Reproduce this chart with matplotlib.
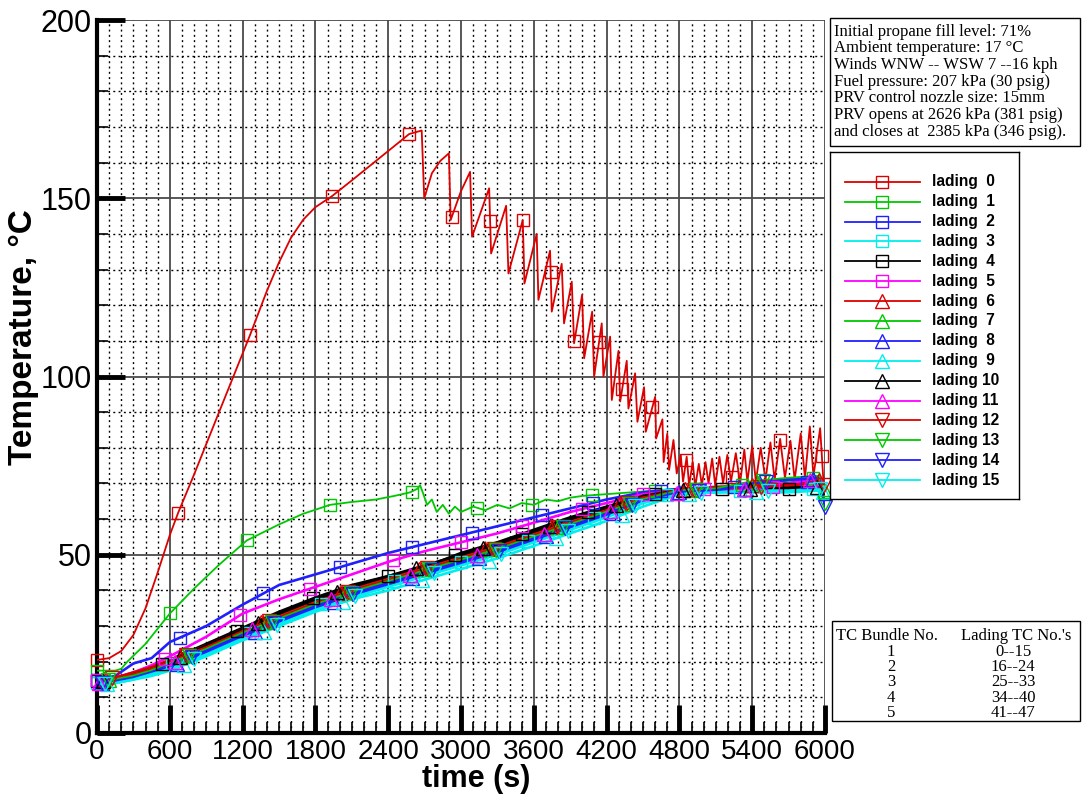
import matplotlib
matplotlib.use("Agg")
import matplotlib.pyplot as plt
import numpy as np
from matplotlib.patches import Rectangle

plt.rcParams["font.family"] = ["Liberation Sans", "DejaVu Sans"]

W, H = 1083, 796

# lading 0: the hot vapour-space thermocouple with the PRV sawtooth
lading0_t = [0, 100, 200, 300, 400, 500, 600, 668, 800, 1000, 1261, 1400, 1500, 1600, 1700,
             1800, 1937, 2100, 2300, 2500, 2572, 2676, 2697, 2760, 2830, 2900, 2915, 3000,
             3075, 3091, 3232, 3248, 3372, 3391, 3509, 3523, 3624, 3638, 3734, 3748, 3830,
             3849, 3913, 3932, 3998, 4015, 4081, 4097, 4160, 4174, 4229, 4243, 4298, 4312,
             4366, 4380, 4435, 4454, 4509, 4523, 4600, 4608, 4660, 4670, 4700, 4715, 4751,
             4778, 4811, 4830, 4860, 4880, 4910, 4930, 4960, 4985, 5015, 5040, 5070, 5095,
             5130, 5160, 5195, 5225, 5265, 5300, 5335, 5360, 5400, 5430, 5470, 5510, 5550,
             5585, 5630, 5670, 5715, 5750, 5800, 5835, 5875, 5905, 5960, 5990, 6000]
lading0_T = [20.5, 21, 23, 27.5, 35, 45, 55.5, 61.7, 72.5, 89.5, 111.6, 124, 132, 139, 144,
             147.5, 150.6, 155, 160.5, 166, 168, 169, 150, 157, 160.5, 162.6, 143.9, 152,
             157.4, 139.2, 152.8, 134.5, 147.9, 128.9, 143.9, 126.1, 140, 121.5, 135.3, 118.2, 131.6,
             114.9, 126.6, 109.3, 122.9, 105.1, 118.2, 100, 114.9, 100, 111.2, 93.4, 107.2, 93,
             104.4, 91, 100.9, 87.3, 97, 84.5, 94.3, 82.6, 88, 76, 84, 73.8, 82.2,
             72.8, 78, 70.5, 77.5, 69.5, 76, 69, 75.5, 69.5, 76, 70, 77, 69.5,
             77.5, 70, 78, 70.5, 78.5, 70, 79.5, 70.5, 80.5, 70.5, 80, 71, 81.5,
             71, 82.5, 71.5, 82, 71, 84, 71.5, 86, 72, 85.5, 69, 68]
lading0_marks = [0, 668, 1261, 1937, 2572, 2924, 3240, 3509, 3739, 3935, 4138, 4328, 4578,
                 4856, 5232, 5631, 5974]

# lading 1: liquid-vapour interface, noisy after the first PRV opening
lading1_t = [0, 150, 200, 250, 400, 600, 800, 1000, 1234, 1500, 1700, 1921, 2100, 2300, 2450,
             2580, 2640, 2663, 2690, 2720, 2760, 2800, 2850, 2900, 2950, 3000, 3100, 3200,
             3300, 3400, 3500, 3600, 3700, 3800, 3900, 4000, 4200, 4400, 4600, 4800, 5000,
             5200, 5400, 5600, 5800, 5950, 6000]
lading1_T = [17.5, 17.5, 18, 20, 25, 33.5, 40.5, 47, 54, 58.5, 61.5, 64, 64.8, 65.5, 66.5,
             67.5, 68.5, 69.5, 67, 64, 65.5, 62, 64, 61.5, 63.5, 62, 63.5, 62.5,
             64, 63, 64.5, 64, 65.5, 65, 66, 66.5, 67, 67.5, 68, 68.5, 68.5,
             69, 70, 70.5, 71, 72, 68]
lading1_marks = [0, 602, 1234, 1921, 2593, 3129, 3582, 4077, 4600, 5313, 5900]

# ladings 2 - 15 share one time base
band_t = [0, 150, 300, 450, 600, 900, 1200, 1500, 1800, 2100, 2400, 2700, 3000, 3300,
          3600, 3900, 4200, 4500, 4800, 5100, 5400, 5700, 5950, 6000]
lading2_T = [15, 16, 19.5, 21, 25.5, 30, 36, 41.5, 44.5, 47.5, 50.5, 53, 55.5, 58,
             60.5, 63, 65.5, 67.5, 68.5, 69, 69, 70, 70.5, 68.5]
lading3_T = [14, 14.5, 15.5, 17, 19, 23, 27.5, 31.5, 35.5, 39, 42, 45, 48, 51,
             54.5, 58, 61.5, 65, 67.5, 68, 68, 68, 68.5, 68]
lading4_T = [14.5, 15, 16, 18, 20.5, 25, 29.5, 34, 38, 41.5, 44, 46.5, 50.5, 53.5,
             57, 60.5, 63.5, 66.5, 68, 68.5, 68, 68.5, 69, 68.5]
lading5_T = [15, 15.5, 17, 19, 21.5, 27, 33.5, 37.5, 41, 44.5, 48, 51, 53.5, 56,
             59, 62, 64.5, 67, 68, 68.5, 68.5, 69.5, 70.5, 69]
lading6_T = [15, 15.5, 17, 18.5, 20.5, 24.5, 29, 33, 37, 40.5, 43.5, 46.5, 49.5, 52.5,
             56, 59.5, 63, 66.5, 68.5, 69, 69.5, 70, 71, 70]
lading7_T = [14.5, 15, 16.5, 18, 20, 24, 28.5, 32.5, 36.5, 40, 43, 46, 49, 52,
             55.5, 59, 62.5, 66, 68, 68.5, 70, 71, 72, 68]
lading8_T = [14, 14.5, 15.5, 17, 18.5, 22.5, 27, 31, 35, 38.5, 41.5, 44.5, 47.5, 50.5,
             54, 57.5, 61, 65, 67.5, 68, 68.5, 70, 71.5, 68]
lading9_T = [13.5, 14, 15, 16, 17.5, 21.5, 26, 30, 34, 37.5, 40, 43, 46, 49,
             52.5, 56, 59.5, 63.5, 67, 67.5, 67.5, 67.5, 68, 67.5]
lading10_T = [14.5, 15, 16.5, 18, 20, 24.5, 29, 33.5, 37.5, 41, 44, 47, 50, 53,
              56.5, 60, 63, 66.5, 68, 68.5, 68.5, 69, 69, 68.5]
lading11_T = [14, 14.5, 16, 17.5, 19.5, 23.5, 28, 32, 36, 39.5, 42.5, 45.5, 48.5, 51.5,
              55, 58.5, 62, 65.5, 67.5, 68, 68.5, 70, 71.5, 69]
lading12_T = [15, 15.5, 16.5, 18, 20, 24, 28.5, 32.5, 36.5, 40, 43, 46, 49, 52,
              55.5, 59, 62.5, 66, 68, 68.5, 69, 69.5, 70, 69.5]
lading13_T = [14.5, 15, 16, 17.5, 19.5, 23.5, 28, 32, 36, 39.5, 42.5, 45.5, 48.5, 51.5,
              55, 58.5, 62, 65.5, 68, 68.5, 70.5, 71.5, 72, 64.5]
lading14_T = [14, 14.5, 15.5, 17, 19, 23, 27.5, 31.5, 35.5, 39, 42, 45, 48, 51,
              54.5, 58, 61.5, 65, 67.5, 68, 70, 71, 71.5, 63.5]
lading15_T = [13.5, 14, 15, 16.5, 18, 22, 26.5, 30.5, 34.5, 38, 41, 44, 47, 50,
              53.5, 57, 60.5, 64.5, 67, 67.5, 68, 68, 68.5, 68]

lading2_marks = [0, 684, 1371, 2003, 2593, 3088, 3665, 4088, 4650, 5250, 5850]
lading3_marks = [0, 620, 1250, 1850, 2450, 3000, 3550, 4100, 4700, 5300, 5900]
lading4_marks = [0, 533, 1150, 1780, 2400, 2950, 3500, 4050, 4600, 5150, 5700]
lading5_marks = [0, 560, 1179, 1756, 2443, 3000, 3500, 4000, 4500, 5000, 5575]
lading6_marks = [60, 700, 1350, 2000, 2650, 3200, 3750, 4300, 4850, 5400, 5950]
lading7_marks = [100, 740, 1400, 2050, 2700, 3250, 3800, 4350, 4900, 5450, 6000]
lading8_marks = [30, 660, 1300, 1950, 2600, 3150, 3700, 4250, 4800, 5350, 5900]
lading9_marks = [80, 720, 1380, 2030, 2680, 3230, 3780, 4330, 4880, 5430, 5980]
lading10_marks = [50, 680, 1330, 1980, 2630, 3180, 3730, 4280, 4830, 5380, 5930]
lading11_marks = [20, 640, 1280, 1930, 2580, 3130, 3680, 4230, 4780, 5330, 5880]
lading12_marks = [120, 733, 1420, 2070, 2720, 3270, 3789, 4370, 4920, 5470, 5990]
lading13_marks = [90, 760, 1440, 2090, 2740, 3290, 3840, 4390, 4940, 5490, 6000]
lading14_marks = [40, 780, 1460, 2110, 2760, 3310, 3860, 4410, 4960, 5510, 6000]
lading15_marks = [70, 800, 1480, 2130, 2780, 3330, 3880, 4430, 4980, 5530, 5960]

series_names = ["lading  0", "lading  1", "lading  2", "lading  3", "lading  4", "lading  5",
                "lading  6", "lading  7", "lading  8", "lading  9", "lading 10", "lading 11",
                "lading 12", "lading 13", "lading 14", "lading 15"]

info_lines = [
    "Initial propane fill level: 71%",
    "Ambient temperature: 17 \u00b0C",
    "Winds WNW -- WSW 7 --16 kph",
    "Fuel pressure: 207 kPa (30 psig)",
    "PRV control nozzle size: 15mm",
    "PRV opens at 2626 kPa (381 psig)",
    "and closes at  2385 kPa (346 psig).",
]
table_header = ["TC Bundle No.", "Lading TC No.'s"]
bundle_no = ["1", "2", "3", "4", "5"]
bundle_ranges = ["0--15", "16--24", "25--33", "34--40", "41--47"]

palette = ["#dd0000", "#00c800", "#2020ff", "#00eeee", "#000000", "#ff00ff"]
shapes = ["s"] * 6 + ["^"] * 6 + ["v"] * 4

times = [lading0_t, lading1_t] + [band_t] * 14
temps = [lading0_T, lading1_T, lading2_T, lading3_T, lading4_T, lading5_T, lading6_T,
         lading7_T, lading8_T, lading9_T, lading10_T, lading11_T, lading12_T, lading13_T,
         lading14_T, lading15_T]
marks = [lading0_marks, lading1_marks, lading2_marks, lading3_marks, lading4_marks,
         lading5_marks, lading6_marks, lading7_marks, lading8_marks, lading9_marks,
         lading10_marks, lading11_marks, lading12_marks, lading13_marks, lading14_marks,
         lading15_marks]


def marker_size(shape):
    return 9 if shape == "s" else 10


fig = plt.figure(figsize=(W / 100, H / 100), dpi=100)
ax = fig.add_axes([97 / W, (H - 733) / H, (825 - 97) / W, (733 - 20) / H])

for i, name in enumerate(series_names):
    color = palette[i % 6]
    lw = 1.3 if i < 2 else 1.9
    t = np.array(times[i], dtype=float)
    T = np.array(temps[i], dtype=float)
    ax.plot(t, T, color=color, lw=lw, zorder=3)
    mt = np.array(marks[i], dtype=float)
    ax.plot(mt, np.interp(mt, t, T), ls="none", marker=shapes[i], ms=marker_size(shapes[i]),
            mfc="none", mec=color, mew=1.0, zorder=4, clip_on=False)

ax.set_xlim(0, 6000)
ax.set_ylim(0, 200)
ax.set_xticks(np.arange(0, 6001, 600))
ax.set_xticks(np.arange(0, 6001, 100), minor=True)
ax.set_yticks(np.arange(0, 201, 50))
ax.set_yticks(np.arange(0, 201, 10), minor=True)
ax.set_axisbelow(True)
ax.grid(which="major", color="#4a4a4a", lw=1.3, ls="-")
ax.grid(which="minor", color="black", lw=1.0, ls=(0, (1.4, 2.4)))
ax.tick_params(which="major", direction="in", length=20, width=3.5, pad=4)
ax.tick_params(axis="x", which="major", labelsize=20, pad=4)
ax.tick_params(axis="y", which="major", labelsize=22)
ax.tick_params(which="minor", direction="in", length=8, width=1.2)
for side in ["left", "bottom"]:
    ax.spines[side].set_linewidth(3)
for side in ["top", "right"]:
    ax.spines[side].set_visible(False)

fig.text(476 / W, 1 - 779 / H, "time (s)", fontsize=22, fontweight="bold",
         ha="center", va="center")
fig.text(24 / W, 1 - 337 / H, "Temperature, \u00b0C", fontsize=24, fontweight="bold",
         rotation=90, ha="center", va="center")

# legend drawn in its own pixel-unit panel
lax = fig.add_axes([830 / W, 1 - 499 / H, 189 / W, 347 / H])
lax.set_xlim(0, 189)
lax.set_ylim(347, 0)
lax.set_xticks([])
lax.set_yticks([])
for s in lax.spines.values():
    s.set_linewidth(1.0)
row0, pitch = 29.7, 19.9
for i, name in enumerate(series_names):
    color = palette[i % 6]
    y = row0 + pitch * i
    lax.plot([15, 90], [y, y], color=color, lw=1.3)
    lax.plot([52.3], [y], ls="none", marker=shapes[i], ms=marker_size(shapes[i]),
             mfc="none", mec=color, mew=1.0)
    lax.text(102, y, name, fontsize=11.2, fontweight="bold", va="center", ha="left")

# info box at the top right
fig.patches.append(Rectangle((830 / W, 1 - 146 / H), 250 / W, 128 / H,
                             transform=fig.transFigure, fc="white", ec="black", lw=1.0))
for k, line in enumerate(info_lines):
    fig.text(834 / W, 1 - (31.7 + 16.67 * k) / H, line, family="Liberation Serif",
             fontsize=12, va="center", ha="left")

# thermocouple bundle table
fig.patches.append(Rectangle((832 / W, 1 - 721 / H), 248 / W, 100 / H,
                             transform=fig.transFigure, fc="white", ec="black", lw=1.0))
fig.text(836 / W, 1 - 636 / H, table_header[0], family="Liberation Serif", fontsize=12,
         va="center", ha="left")
fig.text(961 / W, 1 - 636 / H, table_header[1], family="Liberation Serif", fontsize=12,
         va="center", ha="left")
for k in range(len(bundle_no)):
    y = 1 - (651.7 + 15.3 * k) / H
    fig.text(891 / W, y, bundle_no[k], family="Liberation Serif", fontsize=12,
             va="center", ha="center")
    fig.text(1013 / W, y, bundle_ranges[k], family="Liberation Serif", fontsize=12,
             va="center", ha="center")

fig.savefig("out.png", dpi=100)
